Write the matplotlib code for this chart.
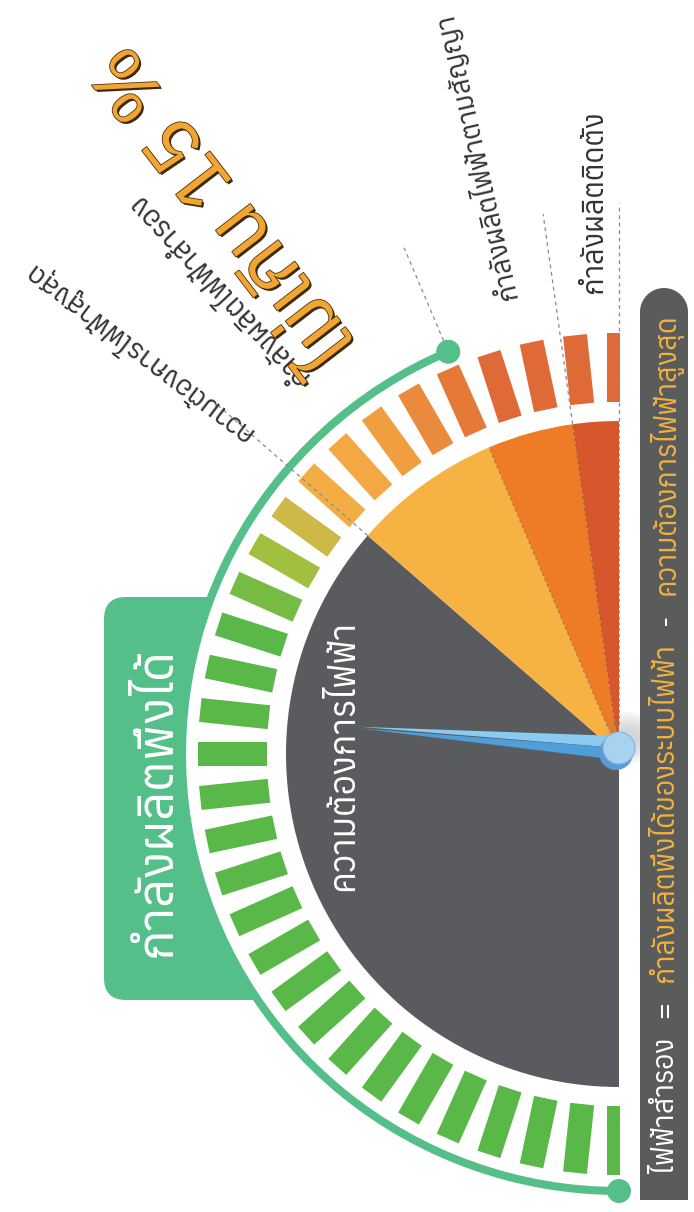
import numpy as np
import matplotlib
matplotlib.use("Agg")
import matplotlib.pyplot as plt
from matplotlib import patches
from matplotlib import patheffects as pe

plt.rcParams['font.family'] = ['Anuphan', 'Noto Sans Thai', 'DejaVu Sans']

# %% data
segment_labels = ["ความต้องการไฟฟ้าสูงสุด", "กำลังผลิตไฟฟ้าสำรอง",
                  "กำลังผลิตไฟฟ้าตามสัญญา", "กำลังผลิตติดตั้ง"]
segment_ends = [131, 157, 172, 180]      # degrees along the half dial
segment_colors = ["#5a5b5e", "#f7b244", "#ee7b25", "#d8562b"]
dependable_end = 157                      # green arc = กำลังผลิตพึ่งได้
needle_value = 94.5
tick_step = 6
tick_colors = (["#59b848"] * 19 +
               ["#76bb44", "#a3bf40", "#cdb947", "#f2ae45", "#f3a843",
                "#f09e40", "#ea8a3c", "#e57a38",
                "#df6a37", "#df6a37", "#df6a37", "#df6a37"])
reserve_text = "ไม่เกิน 15 %"
demand_text = "ความต้องการไฟฟ้า"
dependable_text = "กำลังผลิตพึ่งได้"
formula = [("ไฟฟ้าสำรอง", "white"), ("=", "white"),
           ("กำลังผลิตพึ่งได้ของระบบไฟฟ้า", "#f3b13f"), ("-", "white"),
           ("ความต้องการไฟฟ้าสูงสุด", "#f3b13f")]

# %% geometry (pixels)
cx, cy = 619, 754
r_sector = 333
r_tick_in, r_tick_out, tick_w = 352, 421, 24
r_arc = 437
green = "#55bf8a"

fig = plt.figure(figsize=(6.94, 12.12), dpi=100)
ax = fig.add_axes([0, 0, 1, 1])
ax.set_xlim(0, 694)
ax.set_ylim(1212, 0)
ax.axis('off')
renderer = fig.canvas.get_renderer()

clip = patches.Rectangle((0, 0), cx + 1, 1212, transform=ax.transData)


def pt(angle, r):
    a = np.deg2rad(90 + angle)
    return cx + r * np.cos(a), cy + r * np.sin(a)


# label tab behind the arc
ax.add_patch(patches.FancyBboxPatch((104, 597), 200, 403, boxstyle="round,pad=0,rounding_size=22",
                                    fc=green, ec='none'))
ax.add_patch(patches.Circle((cx, cy), r_arc, fc='white', ec='none'))

# sectors
start = 0
for end, col in zip(segment_ends, segment_colors):
    w = patches.Wedge((cx, cy), r_sector, 90 + start, 90 + end, fc=col, ec='none')
    ax.add_patch(w)
    w.set_clip_path(clip)
    start = end

# ticks
c = np.array([cx, cy])
for i, col in enumerate(tick_colors):
    a = np.deg2rad(90 + i * tick_step)
    u = np.array([np.cos(a), np.sin(a)])
    v = np.array([-np.sin(a), np.cos(a)])
    corners = [c + r_tick_in * u + tick_w / 2 * v, c + r_tick_out * u + tick_w / 2 * v,
               c + r_tick_out * u - tick_w / 2 * v, c + r_tick_in * u - tick_w / 2 * v]
    p = patches.Polygon(corners, fc=col, ec='none')
    ax.add_patch(p)
    p.set_clip_path(clip)

# green arc with end dots
ax.add_patch(patches.Arc((cx, cy), 2 * r_arc, 2 * r_arc, theta1=90, theta2=90 + dependable_end,
                         lw=5.8, color=green))
for a in (0, dependable_end):
    ax.add_patch(patches.Circle(pt(a, r_arc), 12, fc=green, ec='none'))

# dashed leaders
leader_r = [(333, 530), (449, 550), (333, 545), (333, 551)]
for end, (r0, r1) in zip(segment_ends, leader_r):
    x0, y0 = pt(end, r0)
    x1, y1 = pt(end, r1)
    ax.plot([x0, x1], [y0, y1], color='#8a8a8a', lw=0.9, dashes=(3, 3))
for end in segment_ends[1:]:
    x0, y0 = pt(end, 30)
    x1, y1 = pt(end, r_sector)
    ax.plot([x0, x1], [y0, y1], color='#444444', lw=0.7, dashes=(3, 3), alpha=0.5)

# needle
piv = np.array([cx, cy - 6])
a = np.deg2rad(90 + needle_value)
u = np.array([np.cos(a), np.sin(a)])
v = np.array([-np.sin(a), np.cos(a)])
tip = piv + 260 * u
ax.add_patch(patches.Polygon([piv, piv + 12 * v, tip + 0.8 * v], fc='#8ccbf1', ec='none'))
ax.add_patch(patches.Polygon([piv, piv - 12 * v, tip - 0.8 * v], fc='#4e9fd9', ec='none'))
for k in range(6):
    ax.add_patch(patches.Circle((cx + 10, cy - 16), 26 - 3 * k, fc='#808080', ec='none', alpha=0.06))
ax.add_patch(patches.Circle((piv[0] - 3, piv[1] + 5), 17, fc='#5b9ad3', ec='none'))
ax.add_patch(patches.Circle(piv, 16, fc='#a8d3f0', ec='#7fb5df', lw=0.8))

# formula bar
bar_col = "#5a5c5b"
ax.add_patch(patches.Rectangle((640, 312), 48, 888, fc=bar_col, ec='none'))
ax.add_patch(patches.Wedge((664, 312), 24, 180, 360, fc=bar_col, ec='none'))


def fit(x, y, s, length, rot, **kw):
    t = ax.text(x, y, s, fontsize=10, ha='center', va='center', rotation_mode='anchor', **kw)
    wdt = t.get_window_extent(renderer).width
    t.set_fontsize(10 * length / wdt)
    t.set_rotation(rot)
    return t


# formula text, laid out bottom to top
base = 10
runs = [ax.text(0, 0, s, fontsize=base, color=col) for s, col in formula]
widths = [r.get_window_extent(renderer).width for r in runs]
gap = 0.9 * base
total = sum(widths) + gap * (len(runs) - 1)
k = 860 / total
y = 1173
for r, wdt in zip(runs, widths):
    r.set_fontsize(base * k)
    r.set_position((666, y))
    r.set_rotation(90)
    r.set_rotation_mode('anchor')
    r.set_ha('left')
    r.set_va('center')
    y -= (wdt + gap) * k

# texts
fit(343, 755, demand_text, 272, 90, color='white')
fit(157, 802, dependable_text, 310, 90, color='white')
fit(595, 202, segment_labels[3], 183, 90, color='#333333')
fit(476, 157, segment_labels[2], 294, 102.8, color='#333333')
fit(219, 288, segment_labels[1], 251, 133, color='#333333')
fit(136, 352, segment_labels[0], 280, 142.8, color='#333333')
fit(226, 206, reserve_text, 381, 127.6, color='#f2a531',
    path_effects=[pe.Stroke(linewidth=1.2, foreground='#4a3310'),
                  pe.SimplePatchShadow(offset=(1.5, -1.5), shadow_rgbFace='#3d2a0c', alpha=1),
                  pe.Normal()])

fig.savefig("out.png", dpi=100)
